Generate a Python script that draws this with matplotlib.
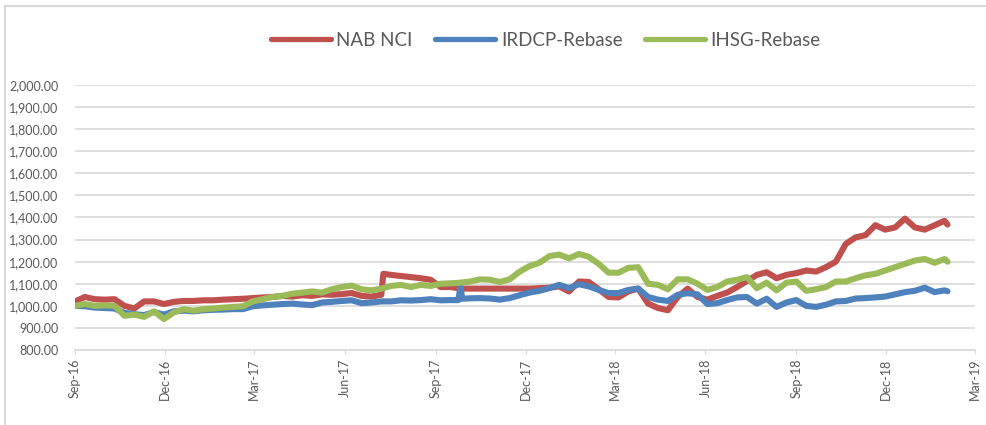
import matplotlib
matplotlib.use("Agg")
import matplotlib.pyplot as plt
import matplotlib.dates as mdates
from matplotlib.lines import Line2D
from matplotlib.ticker import FuncFormatter, MultipleLocator
import pandas as pd

dates = [
    "2016-09-01", "2016-09-11", "2016-09-21", "2016-10-01", "2016-10-11", "2016-10-21",
    "2016-10-31", "2016-11-10", "2016-11-20", "2016-11-30", "2016-12-10", "2016-12-20",
    "2016-12-30", "2017-01-09", "2017-01-19", "2017-01-29", "2017-02-08", "2017-02-18",
    "2017-02-28", "2017-03-10", "2017-03-20", "2017-03-30", "2017-04-09", "2017-04-19",
    "2017-04-29", "2017-05-09", "2017-05-19", "2017-05-29", "2017-06-08", "2017-06-18",
    "2017-06-28", "2017-07-08", "2017-07-10", "2017-07-18", "2017-07-28", "2017-08-07",
    "2017-08-17", "2017-08-27", "2017-09-06", "2017-09-16", "2017-09-24", "2017-09-26",
    "2017-09-28", "2017-10-06", "2017-10-16", "2017-10-26", "2017-11-05", "2017-11-15",
    "2017-11-25", "2017-12-05", "2017-12-15", "2017-12-25", "2018-01-04", "2018-01-14",
    "2018-01-24", "2018-02-03", "2018-02-13", "2018-02-23", "2018-03-05", "2018-03-15",
    "2018-03-25", "2018-04-04", "2018-04-14", "2018-04-24", "2018-05-04", "2018-05-14",
    "2018-05-24", "2018-06-03", "2018-06-13", "2018-06-23", "2018-07-03", "2018-07-13",
    "2018-07-23", "2018-08-02", "2018-08-12", "2018-08-22", "2018-09-01", "2018-09-11",
    "2018-09-21", "2018-10-01", "2018-10-11", "2018-10-21", "2018-10-31", "2018-11-10",
    "2018-11-20", "2018-11-30", "2018-12-10", "2018-12-20", "2018-12-30", "2019-01-09",
    "2019-01-19", "2019-01-29", "2019-02-01",
]

nab_nci = [
    1020, 1040, 1030, 1028, 1030, 1000, 988, 1020, 1020, 1008, 1018, 1022,
    1022, 1025, 1025, 1028, 1030, 1032, 1035, 1038, 1040, 1045, 1042, 1048,
    1045, 1052, 1050, 1053, 1058, 1045, 1042, 1050, 1145, 1140, 1135, 1130,
    1125, 1118, 1085, 1085, 1080, 1078, 1078, 1078, 1078, 1078, 1078, 1078,
    1078, 1078, 1080, 1082, 1088, 1065, 1110, 1108, 1075, 1040, 1038, 1065,
    1078, 1010, 990, 980, 1040, 1078, 1040, 1028, 1045, 1060, 1085, 1112,
    1140, 1152, 1125, 1140, 1148, 1160, 1155, 1175, 1200, 1280, 1310, 1320,
    1365, 1345, 1355, 1395, 1355, 1345, 1365, 1385, 1368,
]

irdcp_rebase = [
    1000, 998, 992, 990, 988, 968, 962, 958, 972, 960, 975, 978,
    975, 980, 982, 983, 985, 985, 998, 1002, 1005, 1008, 1010, 1006,
    1003, 1015, 1018, 1022, 1025, 1012, 1015, 1020, 1020, 1020, 1025, 1024,
    1026, 1030, 1025, 1026, 1026, 1085, 1032, 1034, 1035, 1033, 1028, 1035,
    1048, 1060, 1068, 1080, 1095, 1080, 1098, 1088, 1072, 1058, 1058, 1072,
    1078, 1040, 1028, 1022, 1050, 1057, 1052, 1008, 1012, 1026, 1038, 1040,
    1010, 1032, 995, 1015, 1026, 1000, 995, 1005, 1020, 1022, 1033, 1035,
    1038, 1042, 1052, 1062, 1068, 1082, 1062, 1070, 1066,
]

ihsg_rebase = [
    1000, 1008, 1000, 1002, 1000, 955, 960, 950, 975, 940, 970, 985,
    978, 985, 988, 992, 995, 998, 1020, 1030, 1040, 1045, 1055, 1060,
    1065, 1060, 1075, 1085, 1092, 1075, 1070, 1078, 1080, 1090, 1095, 1085,
    1095, 1090, 1100, 1102, 1104, 1105, 1106, 1110, 1120, 1118, 1108, 1120,
    1155, 1180, 1195, 1225, 1232, 1215, 1235, 1222, 1190, 1150, 1150, 1172,
    1175, 1100, 1095, 1075, 1120, 1120, 1100, 1072, 1085, 1110, 1118, 1130,
    1080, 1105, 1070, 1105, 1110, 1068, 1075, 1085, 1110, 1110, 1125, 1138,
    1145, 1160, 1175, 1190, 1205, 1212, 1195, 1212, 1200,
]

series_names = ["NAB NCI", "IRDCP-Rebase", "IHSG-Rebase"]
series_colors = ["#C0504D", "#4F81BD", "#9BBB59"]

plt.rcParams["font.family"] = ["Lato", "DejaVu Sans"]

x = pd.to_datetime(dates)
fig = plt.figure(figsize=(9.87, 4.25), dpi=100)
ax = fig.add_axes([0.076, 0.1765, 0.912, 0.6235])

for vals, name, col in zip([nab_nci, irdcp_rebase, ihsg_rebase], series_names, series_colors):
    ax.plot(x, vals, color=col, lw=4.4, solid_capstyle="round", solid_joinstyle="round",
            label=name, zorder=3)

ax.set_ylim(800, 2000)
ax.yaxis.set_major_locator(MultipleLocator(100))
ax.yaxis.set_major_formatter(FuncFormatter(lambda v, p: f"{v:,.2f}"))
ax.grid(axis="y", color="#D9D9D9", lw=1.2, zorder=0)
ax.set_axisbelow(True)

ax.set_xlim(pd.Timestamp("2016-09-01"), pd.Timestamp("2019-03-01"))
ax.xaxis.set_major_locator(mdates.MonthLocator(bymonth=[3, 6, 9, 12], bymonthday=1))
ax.xaxis.set_major_formatter(mdates.DateFormatter("%b-%y"))
for lab in ax.get_xticklabels():
    lab.set_rotation(90)

for s in ["top", "right", "left"]:
    ax.spines[s].set_visible(False)
ax.spines["bottom"].set_color("#D9D9D9")
ax.spines["bottom"].set_linewidth(1.2)
ax.tick_params(axis="y", length=0, labelsize=9, labelcolor="#595959", pad=12)
ax.tick_params(axis="x", length=3, color="#D9D9D9", labelsize=9, labelcolor="#595959", pad=3)

handles = [Line2D([0], [0], color=c, lw=3.8, solid_capstyle="round") for c in series_colors]
fig.legend(handles, series_names, loc="center", bbox_to_anchor=(0.553, 0.905), ncol=3,
           frameon=False, fontsize=13.5, handlelength=3.2, handletextpad=0.3,
           columnspacing=1.2, labelcolor="#595959")

# chart area border
fig.add_artist(Line2D([5 / 987, 1.0], [1 - 6 / 425, 1 - 6 / 425], color="#D9D9D9", lw=1.5,
                      transform=fig.transFigure))
fig.add_artist(Line2D([5 / 987, 5 / 987], [0.0, 1 - 6 / 425], color="#D9D9D9", lw=1.5,
                      transform=fig.transFigure))

fig.savefig("out.png", dpi=100)
